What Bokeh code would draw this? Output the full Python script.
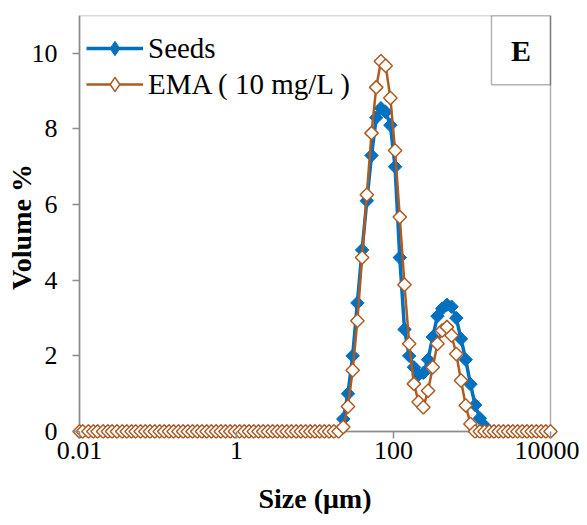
import math
from bokeh.plotting import figure
from bokeh.models import Range1d, FixedTicker, Legend, LegendItem, BoxAnnotation, Label, Span
from bokeh.embed import file_html
from bokeh.resources import INLINE

# Particle size classes (um), 0.01 - 10000
sizes_um = [
    0.010, 0.011, 0.013, 0.015, 0.017, 0.020, 0.023, 0.026, 0.030, 0.035,
    0.040, 0.046, 0.052, 0.060, 0.069, 0.079, 0.091, 0.105, 0.120, 0.138,
    0.158, 0.182, 0.209, 0.240, 0.275, 0.316, 0.363, 0.417, 0.479, 0.550,
    0.631, 0.724, 0.832, 0.955, 1.096, 1.259, 1.445, 1.660, 1.905, 2.188,
    2.512, 2.884, 3.311, 3.802, 4.365, 5.012, 5.754, 6.607, 7.586, 8.710,
    10.000, 11.482, 13.183, 15.136, 17.378, 19.953, 22.909, 26.303, 30.200, 34.674,
    39.811, 45.709, 52.481, 60.256, 69.183, 79.433, 91.201, 104.713, 120.226, 138.038,
    158.489, 181.970, 208.930, 239.883, 275.423, 316.228, 363.078, 416.869, 478.630, 549.541,
    630.957, 724.436, 831.764, 954.993, 1096.478, 1258.925, 1445.440, 1659.587, 1905.461, 2187.762,
    2511.886, 2884.032, 3311.311, 3801.894, 4365.158, 5011.872, 5754.399, 6606.934, 7585.776, 8709.636,
    10000.000,
]

seeds_pct = [
    0, 0, 0, 0, 0, 0, 0, 0, 0, 0,
    0, 0, 0, 0, 0, 0, 0, 0, 0, 0,
    0, 0, 0, 0, 0, 0, 0, 0, 0, 0,
    0, 0, 0, 0, 0, 0, 0, 0, 0, 0,
    0, 0, 0, 0, 0, 0, 0, 0, 0, 0,
    0, 0, 0, 0, 0, 0, 0.33, 1.00, 2.00, 3.40,
    4.80, 6.10, 7.30, 8.30, 8.55, 8.45, 8.10, 7.00, 4.60, 2.70,
    2.00, 1.70, 1.50, 1.55, 1.90, 2.50, 3.05, 3.25, 3.35, 3.30,
    3.00, 2.45, 1.90, 1.25, 0.70, 0.35, 0.15, 0, 0, 0,
    0, 0, 0, 0, 0, 0, 0, 0, 0, 0,
    0,
]

ema_pct = [
    0, 0, 0, 0, 0, 0, 0, 0, 0, 0,
    0, 0, 0, 0, 0, 0, 0, 0, 0, 0,
    0, 0, 0, 0, 0, 0, 0, 0, 0, 0,
    0, 0, 0, 0, 0, 0, 0, 0, 0, 0,
    0, 0, 0, 0, 0, 0, 0, 0, 0, 0,
    0, 0, 0, 0, 0, 0, 0.12, 0.66, 1.62, 2.93,
    4.60, 6.26, 7.89, 9.10, 9.79, 9.67, 8.82, 7.43, 5.67, 3.88,
    2.32, 1.26, 0.78, 0.64, 1.08, 1.70, 2.32, 2.67, 2.76, 2.54,
    2.05, 1.35, 0.69, 0.20, 0, 0, 0, 0, 0, 0,
    0, 0, 0, 0, 0, 0, 0, 0, 0, 0,
    0,
]

series_names = ["Seeds", "EMA ( 10 mg/L )"]
x_tick_values = [0.01, 1, 100, 10000]
x_tick_labels = ["0.01", "1", "100", "10000"]
y_tick_values = [0, 2, 4, 6, 8, 10]
x_title = "Size (\u03bcm)"
y_title = "Volume %"
panel_letter = "E"

# ---- layout / style constants ----
SERIF = "Liberation Serif"
BLUE = "#0070C0"
BROWN = "#AE5A21"
AXIS_GRAY = "#8C8C8C"
X_LO, X_HI = 0.01, 10000
Y_LO, Y_HI = 0, 11
TICK = 7
PAD_X = 10 ** (TICK / 78.5)      # room so edge markers are not clipped
PAD_Y = TICK / 37.82

p = figure(width=579, height=517, x_axis_type="log",
           x_range=Range1d(X_LO / PAD_X, X_HI * PAD_X),
           y_range=Range1d(Y_LO - PAD_Y, Y_HI),
           output_backend="svg", toolbar_location=None,
           min_border_left=72, min_border_right=22,
           min_border_top=15, min_border_bottom=79)

p.xgrid.visible = False
p.ygrid.visible = False
p.outline_line_color = None
p.background_fill_color = "white"
p.border_fill_color = "white"

# plot-area frame: black box, grey axis lines at x=0.01 and y=0 (all beneath glyphs)
p.add_layout(BoxAnnotation(left=X_LO, right=X_HI, bottom=Y_LO, top=Y_HI,
                           fill_alpha=0, line_color="black", line_width=1.5, level="underlay"))
p.add_layout(Span(location=X_LO, dimension="height", line_color=AXIS_GRAY, line_width=1.5,
                  level="underlay"))
p.add_layout(Span(location=Y_LO, dimension="width", line_color=AXIS_GRAY, line_width=1.5,
                  level="underlay"))

# legend-only marker glyphs (diamond shape, too small to show on the plot)
s_leg = p.scatter(sizes_um[:1], seeds_pct[:1], marker="diamond", size=0.1,
                  fill_color=BLUE, line_color=BLUE, line_width=1)
e_leg = p.scatter(sizes_um[:1], ema_pct[:1], marker="diamond", size=0.1,
                  fill_color="white", line_color=BROWN, line_width=1.5)

s_line = p.line(sizes_um, seeds_pct, line_color=BLUE, line_width=3.5)
s_pts = p.scatter(sizes_um, seeds_pct, marker="square", size=9.5, angle=math.pi / 4,
                  fill_color=BLUE, line_color=BLUE, line_width=1)
e_line = p.line(sizes_um, ema_pct, line_color=BROWN, line_width=2.5)
e_pts = p.scatter(sizes_um, ema_pct, marker="square", size=9.5, angle=math.pi / 4,
                  fill_color="white", line_color=BROWN, line_width=1.5)

# axes sit at the frame edges; ticks point inward by TICK px so they hang from the grey lines
p.xaxis.ticker = FixedTicker(ticks=x_tick_values)
p.xaxis.major_label_overrides = {v: t for v, t in zip(x_tick_values, x_tick_labels)}
p.yaxis.ticker = FixedTicker(ticks=y_tick_values)
for ax in (p.xaxis[0], p.yaxis[0]):
    ax.axis_line_color = None
    ax.major_tick_line_color = AXIS_GRAY
    ax.major_tick_line_width = 1.5
    ax.major_tick_out = 0
    ax.major_tick_in = TICK
    ax.minor_tick_line_color = None
    ax.major_label_text_font = SERIF
    ax.major_label_text_font_size = "26px"
    ax.major_label_text_color = "black"
    ax.axis_label_text_font = SERIF
    ax.axis_label_text_font_style = "bold"
    ax.axis_label_text_font_size = "28px"
    ax.axis_label_text_color = "black"
p.xaxis.axis_label = x_title
p.xaxis.major_label_standoff = 3
p.xaxis.axis_label_standoff = 21
p.yaxis.axis_label = y_title
p.yaxis.major_label_standoff = 15
p.yaxis.axis_label_standoff = -8

legend = Legend(items=[LegendItem(label=series_names[0], renderers=[s_line, s_leg]),
                       LegendItem(label=series_names[1], renderers=[e_line, e_leg])],
                location=(14, 336))
legend.border_line_color = None
legend.background_fill_alpha = 0
legend.padding = 2
legend.margin = 0
legend.spacing = 0
legend.glyph_width = 57
legend.glyph_height = 36
legend.label_height = 36
legend.label_standoff = 5
legend.label_text_font = SERIF
legend.label_text_font_size = "29px"
legend.label_text_color = "black"
p.add_layout(legend)

box = BoxAnnotation(left=1770, right=X_HI, bottom=9.17, top=Y_HI,
                    fill_alpha=0, line_color="black", line_width=1.5)
p.add_layout(box)
p.add_layout(Label(x=4200, y=10.07, text=panel_letter, text_align="center", text_baseline="middle",
                   text_font=SERIF, text_font_style="bold", text_font_size="30px", text_color="black"))

open("out.html", "w").write(file_html(p, INLINE))
